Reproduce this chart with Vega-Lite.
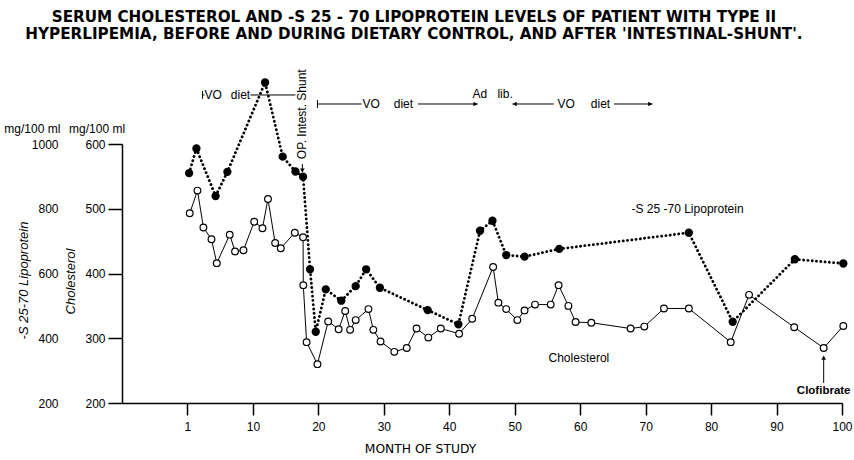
{
  "$schema": "https://vega.github.io/schema/vega-lite/v6.json",
  "width": 720,
  "height": 259,
  "autosize": {"type": "none"},
  "padding": {"left": 122, "top": 144, "right": 12, "bottom": 57},
  "background": "white",
  "config": {
    "view": {"stroke": null},
    "axis": {"grid": false, "labelFont": "Liberation Sans", "labelFontSize": 12, "labelColor": "black", "titleColor": "black", "domainColor": "black", "tickColor": "black"},
    "text": {"font": "Liberation Sans", "color": "black"}
  },
  "title": {
    "text": ["SERUM CHOLESTEROL AND -S 25 - 70 LIPOPROTEIN LEVELS OF PATIENT WITH TYPE II", "HYPERLIPEMIA, BEFORE AND DURING DIETARY CONTROL, AND AFTER 'INTESTINAL-SHUNT'."],
    "anchor": "middle", "frame": "group", "dx": -68, "offset": 27,
    "font": "DejaVu Sans", "fontSize": 15.2, "fontWeight": "bold", "lineHeight": 17, "color": "black"
  },
  "datasets": {
    "lipo": [
      {"month": 0.25, "lipo": 910}, {"month": 1.37, "lipo": 986}, {"month": 4.3, "lipo": 839}, {"month": 6.1, "lipo": 914},
      {"month": 11.86, "lipo": 1190}, {"month": 14.55, "lipo": 961}, {"month": 16.5, "lipo": 915}, {"month": 17.66, "lipo": 899},
      {"month": 18.73, "lipo": 613}, {"month": 19.6, "lipo": 420}, {"month": 21.13, "lipo": 551}, {"month": 23.5, "lipo": 516},
      {"month": 25.7, "lipo": 561}, {"month": 27.3, "lipo": 613}, {"month": 29.4, "lipo": 556}, {"month": 36.7, "lipo": 487},
      {"month": 41.4, "lipo": 443}, {"month": 44.7, "lipo": 732}, {"month": 46.6, "lipo": 763}, {"month": 48.7, "lipo": 657},
      {"month": 51.5, "lipo": 652}, {"month": 56.8, "lipo": 676}, {"month": 76.6, "lipo": 726}, {"month": 83.3, "lipo": 451},
      {"month": 92.8, "lipo": 644}, {"month": 100.2, "lipo": 631}
    ],
    "chol": [
      {"month": 0.35, "chol": 493}, {"month": 1.53, "chol": 528}, {"month": 2.44, "chol": 471}, {"month": 3.67, "chol": 453},
      {"month": 4.48, "chol": 416}, {"month": 6.46, "chol": 460}, {"month": 7.27, "chol": 434}, {"month": 8.56, "chol": 436},
      {"month": 10.2, "chol": 480}, {"month": 11.46, "chol": 470}, {"month": 12.3, "chol": 515}, {"month": 13.4, "chol": 447},
      {"month": 14.26, "chol": 439}, {"month": 16.4, "chol": 463}, {"month": 17.66, "chol": 456}, {"month": 17.7, "chol": 382},
      {"month": 18.2, "chol": 294}, {"month": 19.86, "chol": 260}, {"month": 21.5, "chol": 326}, {"month": 23.1, "chol": 314},
      {"month": 24.1, "chol": 342}, {"month": 24.85, "chol": 313}, {"month": 25.7, "chol": 328}, {"month": 27.65, "chol": 345},
      {"month": 28.4, "chol": 313}, {"month": 29.5, "chol": 295}, {"month": 31.6, "chol": 279}, {"month": 33.5, "chol": 285},
      {"month": 35.0, "chol": 315}, {"month": 36.8, "chol": 301}, {"month": 38.7, "chol": 315}, {"month": 41.5, "chol": 307},
      {"month": 43.5, "chol": 330}, {"month": 46.7, "chol": 410}, {"month": 47.5, "chol": 355}, {"month": 48.7, "chol": 345},
      {"month": 50.4, "chol": 328}, {"month": 51.5, "chol": 343}, {"month": 53.1, "chol": 352}, {"month": 55.5, "chol": 352},
      {"month": 56.7, "chol": 382}, {"month": 58.2, "chol": 350}, {"month": 59.3, "chol": 325}, {"month": 61.7, "chol": 324},
      {"month": 67.7, "chol": 315}, {"month": 69.8, "chol": 318}, {"month": 72.8, "chol": 346}, {"month": 76.6, "chol": 346},
      {"month": 83.0, "chol": 294}, {"month": 85.8, "chol": 367}, {"month": 92.7, "chol": 317}, {"month": 97.2, "chol": 285},
      {"month": 100.2, "chol": 319}
    ]
  },
  "layer": [
    {
      "data": {"name": "lipo"},
      "mark": {"type": "line", "stroke": "black", "strokeWidth": 2.8, "strokeDash": [0.1, 4.2], "strokeCap": "round"},
      "encoding": {
        "x": {"field": "month", "type": "quantitative", "scale": {"domain": [-10, 100]}},
        "y": {"field": "lipo", "type": "quantitative", "scale": {"domain": [200, 1000]},
          "axis": {"orient": "left", "values": [200, 400, 600, 800, 1000], "format": "d", "ticks": false, "domain": false, "labelPadding": 64,
            "title": "-S 25-70 Lipoprotein", "titleFontStyle": "italic", "titleFontWeight": "normal", "titleFontSize": 13, "titleFont": "Liberation Sans",
            "titleX": -99, "titleY": 136, "titleAngle": 270, "titleAlign": "center", "titleBaseline": "middle"}}
      }
    },
    {
      "data": {"name": "lipo"},
      "mark": {"type": "point", "filled": true, "fill": "black", "stroke": "black", "size": 40, "opacity": 1},
      "encoding": {
        "x": {"field": "month", "type": "quantitative", "scale": {"domain": [-10, 100]}},
        "y": {"field": "lipo", "type": "quantitative", "scale": {"domain": [200, 1000]}, "axis": null}
      }
    },
    {
      "data": {"name": "chol"},
      "mark": {"type": "line", "stroke": "black", "strokeWidth": 1},
      "encoding": {
        "x": {"field": "month", "type": "quantitative", "scale": {"domain": [-10, 100]},
          "axis": {"values": [0, 10, 20, 30, 40, 50, 60, 70, 80, 90, 100], "labelExpr": "datum.value === 0 ? '1' : datum.label",
            "labelFlush": false, "tickSize": 12, "tickWidth": 1.5, "domainWidth": 1.5, "labelPadding": 6,
            "title": "MONTH OF STUDY", "titleFont": "DejaVu Sans", "titleFontWeight": "normal", "titleFontSize": 12.3,
            "titleX": 298, "titleY": 45, "titleBaseline": "middle", "titleAlign": "center"}},
        "y": {"field": "chol", "type": "quantitative", "scale": {"domain": [200, 600]},
          "axis": {"orient": "left", "values": [200, 300, 400, 500, 600], "tickSize": 14, "tickWidth": 1.5, "domainWidth": 1.5, "labelPadding": 3,
            "title": "Cholesterol", "titleFontStyle": "italic", "titleFontWeight": "normal", "titleFontSize": 13, "titleFont": "Liberation Sans",
            "titleX": -52, "titleY": 137, "titleAngle": 270, "titleAlign": "center", "titleBaseline": "middle"}}
      }
    },
    {
      "data": {"name": "chol"},
      "mark": {"type": "point", "filled": true, "fill": "white", "stroke": "black", "strokeWidth": 1.2, "size": 45, "opacity": 1},
      "encoding": {
        "x": {"field": "month", "type": "quantitative", "scale": {"domain": [-10, 100]}},
        "y": {"field": "chol", "type": "quantitative", "scale": {"domain": [200, 600]}, "axis": null}
      }
    },
    {
      "data": {"values": [
        {"x": 2.29, "x2": 2.6, "y": 675.7}, {"x": 9.6, "x2": 16.5, "y": 675.7},
        {"x": 19.86, "x2": 26.6, "y": 661.8}, {"x": 35.19, "x2": 44.35, "y": 661.8},
        {"x": 49.66, "x2": 55.97, "y": 661.8}, {"x": 65.18, "x2": 71.05, "y": 661.8}
      ]},
      "mark": {"type": "rule", "stroke": "black", "strokeWidth": 1},
      "encoding": {
        "x": {"field": "x", "type": "quantitative", "scale": {"domain": [-10, 100]}},
        "x2": {"field": "x2"},
        "y": {"field": "y", "type": "quantitative", "scale": {"domain": [200, 600]}, "axis": null}
      }
    },
    {
      "data": {"values": [
        {"x": 2.29, "y": 669.6, "y2": 681.9}, {"x": 19.86, "y": 655.6, "y2": 668},
        {"x": 17.56, "y": 557, "y2": 569}, {"x": 97.2, "y": 231, "y2": 272}
      ]},
      "mark": {"type": "rule", "stroke": "black", "strokeWidth": 1},
      "encoding": {
        "x": {"field": "x", "type": "quantitative", "scale": {"domain": [-10, 100]}},
        "y": {"field": "y", "type": "quantitative", "scale": {"domain": [200, 600]}, "axis": null},
        "y2": {"field": "y2"}
      }
    },
    {
      "data": {"values": [
        {"x": 44.0, "y": 661.8, "s": "triangle-right"}, {"x": 70.7, "y": 661.8, "s": "triangle-right"},
        {"x": 50.0, "y": 661.8, "s": "triangle-left"}, {"x": 17.56, "y": 559, "s": "triangle-down"},
        {"x": 97.2, "y": 270, "s": "triangle-up"}
      ]},
      "mark": {"type": "point", "filled": true, "fill": "black", "size": 22, "opacity": 1},
      "encoding": {
        "x": {"field": "x", "type": "quantitative", "scale": {"domain": [-10, 100]}},
        "y": {"field": "y", "type": "quantitative", "scale": {"domain": [200, 600]}, "axis": null},
        "shape": {"field": "s", "type": "nominal", "scale": {"domain": ["triangle-right", "triangle-left", "triangle-down", "triangle-up"], "range": ["triangle-right", "triangle-left", "triangle-down", "triangle-up"]}, "legend": null}
      }
    },
    {
      "data": {"values": [
        {"x": 2.6, "y": 675.7, "t": "VO"}, {"x": 6.62, "y": 675.7, "t": "diet"},
        {"x": 26.74, "y": 661.8, "t": "VO"}, {"x": 31.52, "y": 661.8, "t": "diet"},
        {"x": 56.53, "y": 661.8, "t": "VO"}, {"x": 61.62, "y": 661.8, "t": "diet"},
        {"x": 43.55, "y": 677, "t": "Ad"}, {"x": 47.35, "y": 677, "t": "lib."}
      ]},
      "mark": {"type": "text", "align": "left", "baseline": "middle", "fontSize": 12},
      "encoding": {
        "x": {"field": "x", "type": "quantitative", "scale": {"domain": [-10, 100]}},
        "y": {"field": "y", "type": "quantitative", "scale": {"domain": [200, 600]}, "axis": null},
        "text": {"field": "t"}
      }
    },
    {
      "data": {"values": [
        {"x": 59.8, "y": 270, "t": "Cholesterol"},
        {"x": 76.4, "y": 500, "t": "-S 25 -70 Lipoprotein"},
        {"x": -23.7, "y": 623, "t": "mg/100 ml"},
        {"x": -13.8, "y": 623, "t": "mg/100 ml"}
      ]},
      "mark": {"type": "text", "align": "center", "baseline": "middle", "fontSize": 12},
      "encoding": {
        "x": {"field": "x", "type": "quantitative", "scale": {"domain": [-10, 100]}},
        "y": {"field": "y", "type": "quantitative", "scale": {"domain": [200, 600]}, "axis": null},
        "text": {"field": "t"}
      }
    },
    {
      "data": {"values": [{"x": 97.2, "y": 219, "t": "Clofibrate"}]},
      "mark": {"type": "text", "align": "center", "baseline": "middle", "fontSize": 11.5, "fontWeight": "bold"},
      "encoding": {
        "x": {"field": "x", "type": "quantitative", "scale": {"domain": [-10, 100]}},
        "y": {"field": "y", "type": "quantitative", "scale": {"domain": [200, 600]}, "axis": null},
        "text": {"field": "t"}
      }
    },
    {
      "data": {"values": [{"x": 17.56, "y": 646, "t": "OP. Intest. Shunt"}]},
      "mark": {"type": "text", "align": "center", "baseline": "middle", "fontSize": 12, "angle": 270},
      "encoding": {
        "x": {"field": "x", "type": "quantitative", "scale": {"domain": [-10, 100]}},
        "y": {"field": "y", "type": "quantitative", "scale": {"domain": [200, 600]}, "axis": null},
        "text": {"field": "t"}
      }
    }
  ],
  "resolve": {"scale": {"y": "independent"}, "axis": {"y": "independent"}}
}
